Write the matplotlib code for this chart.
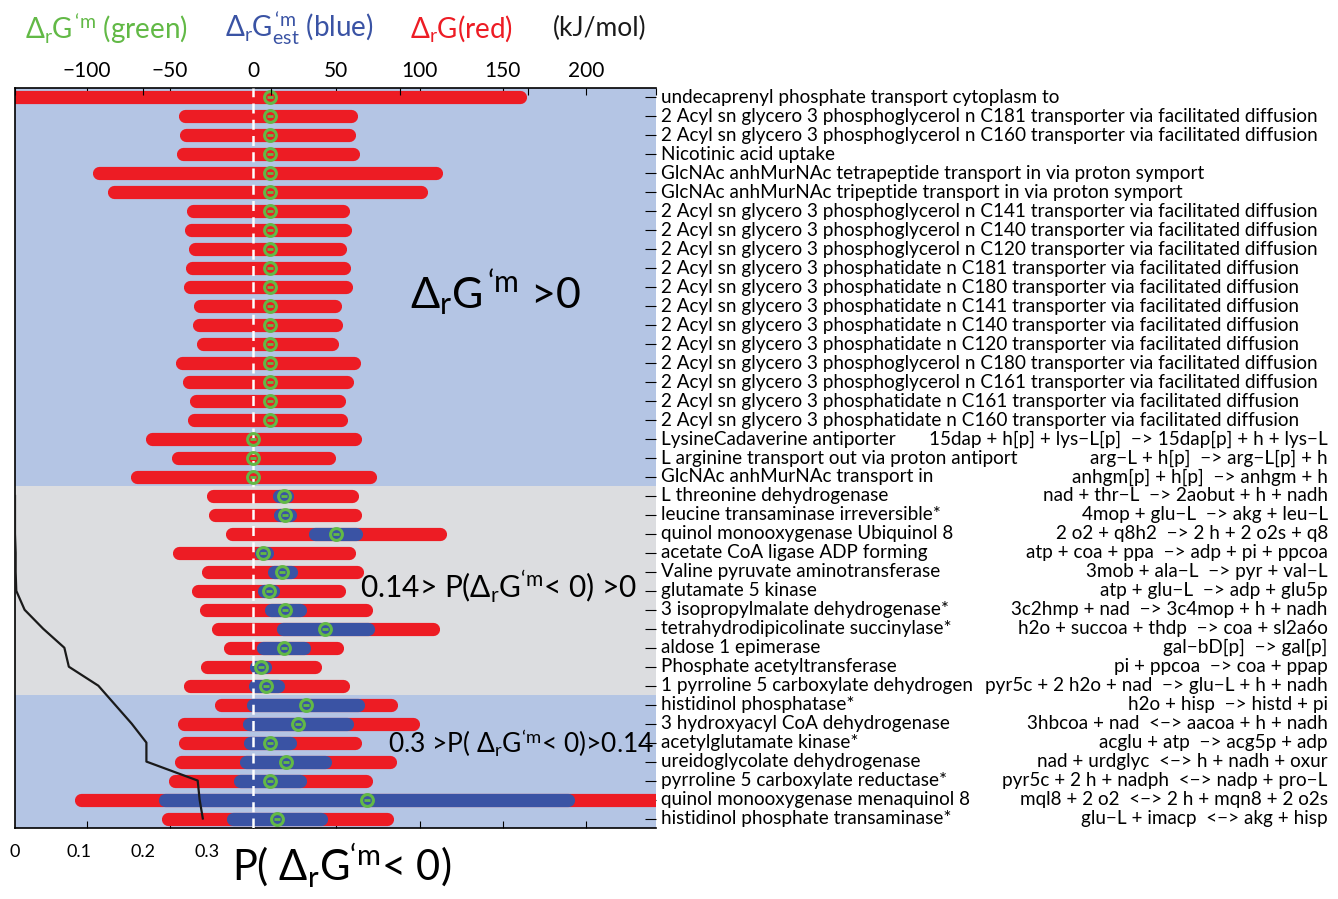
import numpy as np
import matplotlib
matplotlib.use('Agg')
import matplotlib.pyplot as plt
import matplotlib.transforms as mtransforms

plt.rcParams['font.family'] = ['Lato', 'DejaVu Sans']
plt.rcParams['mathtext.fontset'] = 'custom'
plt.rcParams['mathtext.rm'] = 'Lato'
plt.rcParams['mathtext.it'] = 'Lato:italic'
plt.rcParams['mathtext.bf'] = 'Lato:bold'
plt.rcParams['mathtext.fallback'] = 'stixsans'

# reaction names (top to bottom)
names = [
    'undecaprenyl phosphate transport cytoplasm to',
    '2 Acyl sn glycero 3 phosphoglycerol n C181 transporter via facilitated diffusion',
    '2 Acyl sn glycero 3 phosphoglycerol n C160 transporter via facilitated diffusion',
    'Nicotinic acid uptake',
    'GlcNAc anhMurNAc tetrapeptide transport in via proton symport',
    'GlcNAc anhMurNAc tripeptide transport in via proton symport',
    '2 Acyl sn glycero 3 phosphoglycerol n C141 transporter via facilitated diffusion',
    '2 Acyl sn glycero 3 phosphoglycerol n C140 transporter via facilitated diffusion',
    '2 Acyl sn glycero 3 phosphoglycerol n C120 transporter via facilitated diffusion',
    '2 Acyl sn glycero 3 phosphatidate n C181 transporter via facilitated diffusion',
    '2 Acyl sn glycero 3 phosphatidate n C180 transporter via facilitated diffusion',
    '2 Acyl sn glycero 3 phosphatidate n C141 transporter via facilitated diffusion',
    '2 Acyl sn glycero 3 phosphatidate n C140 transporter via facilitated diffusion',
    '2 Acyl sn glycero 3 phosphatidate n C120 transporter via facilitated diffusion',
    '2 Acyl sn glycero 3 phosphoglycerol n C180 transporter via facilitated diffusion',
    '2 Acyl sn glycero 3 phosphoglycerol n C161 transporter via facilitated diffusion',
    '2 Acyl sn glycero 3 phosphatidate n C161 transporter via facilitated diffusion',
    '2 Acyl sn glycero 3 phosphatidate n C160 transporter via facilitated diffusion',
    'LysineCadaverine antiporter',
    'L arginine transport out via proton antiport',
    'GlcNAc anhMurNAc transport in',
    'L threonine dehydrogenase',
    'leucine transaminase irreversible*',
    'quinol monooxygenase Ubiquinol 8',
    'acetate CoA ligase ADP forming',
    'Valine pyruvate aminotransferase',
    'glutamate 5 kinase',
    '3 isopropylmalate dehydrogenase*',
    'tetrahydrodipicolinate succinylase*',
    'aldose 1 epimerase',
    'Phosphate acetyltransferase',
    '1 pyrroline 5 carboxylate dehydrogen',
    'histidinol phosphatase*',
    '3 hydroxyacyl CoA dehydrogenase',
    'acetylglutamate kinase*',
    'ureidoglycolate dehydrogenase',
    'pyrroline 5 carboxylate reductase*',
    'quinol monooxygenase menaquinol 8',
    'histidinol phosphate transaminase*',
]

equations = [''] * 18 + [
    '15dap + h[p] + lys\u2212L[p]  \u2212> 15dap[p] + h + lys\u2212L',
    'arg\u2212L + h[p]  \u2212> arg\u2212L[p] + h',
    'anhgm[p] + h[p]  \u2212> anhgm + h',
    'nad + thr\u2212L  \u2212> 2aobut + h + nadh',
    '4mop + glu\u2212L  \u2212> akg + leu\u2212L',
    '2 o2 + q8h2  \u2212> 2 h + 2 o2s + q8',
    'atp + coa + ppa  \u2212> adp + pi + ppcoa',
    '3mob + ala\u2212L  \u2212> pyr + val\u2212L',
    'atp + glu\u2212L  \u2212> adp + glu5p',
    '3c2hmp + nad  \u2212> 3c4mop + h + nadh',
    'h2o + succoa + thdp  \u2212> coa + sl2a6o',
    'gal\u2212bD[p]  \u2212> gal[p]',
    'pi + ppcoa  \u2212> coa + ppap',
    'pyr5c + 2 h2o + nad  \u2212> glu\u2212L + h + nadh',
    'h2o + hisp  \u2212> histd + pi',
    '3hbcoa + nad  <\u2212> aacoa + h + nadh',
    'acglu + atp  \u2212> acg5p + adp',
    'nad + urdglyc  <\u2212> h + nadh + oxur',
    'pyr5c + 2 h + nadph  <\u2212> nadp + pro\u2212L',
    'mql8 + 2 o2  <\u2212> 2 h + mqn8 + 2 o2s',
    'glu\u2212L + imacp  <\u2212> akg + hisp',
]

# Delta_r G range (red), kJ/mol
red_lo = [-150, -45, -44, -46, -96.6, -87.6, -40, -41.4, -38.9, -40.6,
          -42, -35.8, -36.7, -33.9, -46.6, -42.7, -38, -39.5, -64.8, -49.2,
          -73.8, -27.9, -26.9, -16.8, -48.2, -31, -37, -32.5, -24.9, -17.8,
          -31.7, -42.1, -23.1, -45.7, -44.9, -47.2, -50.8, -107.6, -54.8]
red_hi = [164, 62.7, 61.6, 63.7, 114, 105, 57.7, 59, 56.4, 58.4,
          59.5, 53.2, 54, 51.5, 64.4, 60.1, 55.8, 56.9, 65.4, 49.5,
          74.2, 63.5, 65.2, 116.5, 61.4, 66.5, 55.6, 71.6, 112.2, 54.6,
          41.1, 58.1, 86.8, 100, 65.2, 86.3, 71.6, 260, 84.3]

# Delta_r G'm est range (blue), only for the lower rows
nan = np.nan
blue_lo = [nan] * 21 + [11.9, 12.4, 33.2, 0.5, 8.4, 2.3, 6.6, 14.2, 1.8,
                        -2.5, -2.8, -3.8, -6.3, -5.8, -8.1, -11.9, -57.1, -16]
blue_hi = [nan] * 21 + [24.6, 26.4, 65.7, 12.4, 26.9, 16.2, 32.2, 72.8, 34.8,
                        11.4, 18.8, 67, 60.2, 26.1, 47.2, 32.2, 193.4, 44.9]

# Delta_r G'm (green)
green = [10] * 18 + [0, 0, 0] + [18.3, 19.3, 49.5, 6.1, 17.5, 9.4, 19.3, 43.4,
                                 18.5, 4.6, 7.9, 32, 27.2, 10.2, 19.5, 10.2,
                                 68.5, 14.5]

# P(Delta_r G'm < 0)
p_neg = [nan] * 21 + [0.0, 0.0, 0.0, 0.001, 0.001, 0.002, 0.015, 0.044, 0.077,
                      0.084, 0.13, 0.156, 0.182, 0.205, 0.205, 0.285, 0.288, 0.293]

kj_ticks = [-100, -50, 0, 50, 100, 150, 200]
p_labels = [0, 0.1, 0.2, 0.3]

C_RED = '#ed1c24'
C_BLUE = '#3a53a4'
C_GREEN = '#62b946'
C_BG_BLUE = '#b4c5e4'
C_BG_GREY = '#dcdde0'

n = len(names)
rows = np.arange(n)

fig = plt.figure(figsize=(13.38, 8.99), dpi=100)
ax = fig.add_axes([15/1338., 1-828/899., 641/1338., 740/899.])
xmin, xmax = -143, 242
ax.set_xlim(xmin, xmax)
ax.set_ylim(n - 0.5, -0.5)

ax.axhspan(-0.5, 20.5, color=C_BG_BLUE, zorder=0, lw=0)
ax.axhspan(20.5, 31.5, color=C_BG_GREY, zorder=0, lw=0)
ax.axhspan(31.5, n - 0.5, color=C_BG_BLUE, zorder=0, lw=0)

lw_bar = 9.5
# round caps stick out by half the line width, pull the ends in by that much
px_per_unit = 641. / (xmax - xmin)
cap = lw_bar / 2. * 100 / 72. / px_per_unit

def bar(lo, hi, y, col, z):
    a, b = lo + cap, hi - cap
    if b < a:
        a = b = (lo + hi) / 2.
    ax.plot([a, b], [y, y], color=col, lw=lw_bar, solid_capstyle='round', zorder=z)

for i in rows:
    bar(red_lo[i], red_hi[i], i, C_RED, 2)
    if not np.isnan(blue_lo[i]):
        bar(blue_lo[i], blue_hi[i], i, C_BLUE, 3)

ax.axvline(0, color='white', lw=1.8, ls=(0, (4, 2.5)), zorder=4)
ax.plot(green, rows, 'o', mfc='none', mec=C_GREEN, ms=8.5, mew=2.2, zorder=5)
ax.plot(green, rows, '_', color=C_GREEN, ms=4, mew=2, zorder=5)

# probability axis across the same box
ax2 = ax.twiny()
ax2.set_xlim(0, 1)
ax2.plot(p_neg, rows, color='#1a1a1a', lw=1.6, zorder=6)
ax2.set_xticks([0, 0.2, 0.4, 0.6, 0.8, 1.0])
ax2.tick_params(axis='x', top=True, bottom=False, labeltop=False, labelbottom=False,
                direction='in', length=5)
for s in ax2.spines.values():
    s.set_visible(False)

# twiny moved the main ticks to the bottom, put labels back on top
ax.set_xticks(kj_ticks)
ax.set_xticklabels(['\u2212100', '\u221250', '0', '50', '100', '150', '200'])
ax.tick_params(axis='x', top=True, bottom=True, labeltop=True, labelbottom=False,
               direction='in', length=5, labelsize=15, pad=5)
ax.set_yticks(rows)
ax.set_yticklabels([])
ax.tick_params(axis='y', left=False, right=True, direction='in', length=8, width=0.8)
for s in ['left', 'top', 'bottom']:
    ax.spines[s].set_linewidth(1.2)
ax.spines['right'].set_visible(False)

# row labels on the right
tr = mtransforms.blended_transform_factory(ax.transAxes, ax.transData)
for i in rows:
    ax.text(1.0078, i, names[i], transform=tr, ha='left', va='center', fontsize=13.6)
    if equations[i]:
        ax.text(2.048, i, equations[i], transform=tr, ha='right', va='center', fontsize=13.6)

# in-plot annotations
ax.text(94, 10.3, r'$\Delta_{\rm r}{\rm G}^{\rm \,‘m}$ >0', fontsize=31, ha='left', va='center')
ax.text(64, 25.8, r'0.14> P($\Delta_{\rm r}{\rm G}^{\rm ‘m}$< 0) >0', fontsize=21.5, ha='left', va='center')
ax.text(81, 34.05, r'0.3 >P( $\Delta_{\rm r}{\rm G}^{\rm ‘m}$< 0)>0.14', fontsize=19, ha='left', va='center')

# probability tick labels and title under the box
trp = mtransforms.blended_transform_factory(ax2.transData, fig.transFigure)
for p in p_labels:
    ax2.text(p, 1 - 852/899., str(p), transform=trp, ha='center', va='center', fontsize=13)
fig.text(232/1338., 1 - 880/899., r'P( $\Delta_{\rm r}{\rm G}^{\rm ‘m}$< 0)', fontsize=30,
         ha='left', va='baseline')

# header
hy = 1 - 28/899.
fig.text(25/1338., hy, r'$\Delta_{\rm r}{\rm G}^{\rm \,‘m}$ (green)', color=C_GREEN, fontsize=20, va='center')
fig.text(225/1338., hy, r'$\Delta_{\rm r}{\rm G}^{\rm \,‘m}_{\rm est}$ (blue)', color=C_BLUE, fontsize=20, va='center')
fig.text(410/1338., hy, r'$\Delta_{\rm r}{\rm G}$(red)', color=C_RED, fontsize=20, va='center')
fig.text(553/1338., hy, '(kJ/mol)', color='#1a1a1a', fontsize=19, va='center')

fig.savefig('out.png', dpi=100)
